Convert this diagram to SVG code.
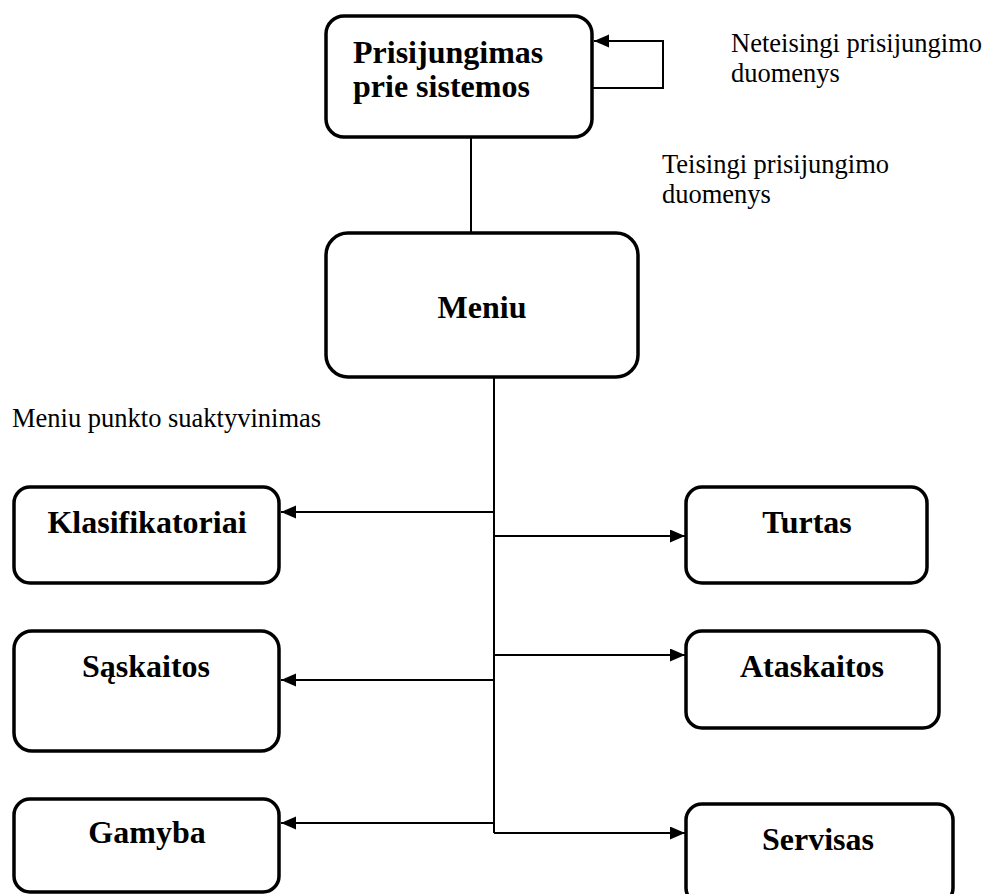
<svg xmlns="http://www.w3.org/2000/svg" width="984" height="894" viewBox="0 0 984 894">
  <style>
    .box { fill: #ffffff; stroke: #000000; stroke-width: 3.5; }
    .title { font-family: "Liberation Serif", "Times New Roman", serif; font-weight: bold; font-size: 32px; fill: #000000; }
    .note { font-family: "Liberation Serif", "Times New Roman", serif; font-size: 26.5px; fill: #000000; }
    .wire { fill: none; stroke: #000000; stroke-width: 2; }
    .arrow { fill: none; stroke: #000000; stroke-width: 2; marker-end: url(#head); }
  </style>
  <defs>
    <marker id="head" markerUnits="userSpaceOnUse" markerWidth="16" markerHeight="14" refX="15" refY="6.5" orient="auto">
      <path d="M0,0 L15,6.5 L0,13 z" fill="#000000"/>
    </marker>
  </defs>
  <rect width="984" height="894" fill="#ffffff"/>

  <!-- connectors -->
  <g id="connectors">
    <path class="arrow" d="M592,88 H663 V41 H594"/>
    <path class="wire" d="M471,137 V233"/>
    <path class="wire" d="M494,377 V833"/>
    <path class="arrow" d="M494,512 H281"/>
    <path class="arrow" d="M494,536 H685"/>
    <path class="arrow" d="M494,655 H685"/>
    <path class="arrow" d="M494,680 H281"/>
    <path class="arrow" d="M494,823 H281"/>
    <path class="arrow" d="M494,833 H685"/>
  </g>

  <!-- edge labels -->
  <g id="labels">
    <text class="note" x="731" y="52">Neteisingi prisijungimo</text>
    <text class="note" x="731" y="82">duomenys</text>
    <text class="note" x="662" y="173">Teisingi prisijungimo</text>
    <text class="note" x="662" y="203">duomenys</text>
    <text class="note" x="12" y="427">Meniu punkto suaktyvinimas</text>
  </g>

  <g id="login">
    <rect class="box" x="326" y="16" width="266" height="121" rx="18"/>
    <text class="title" x="353" y="63">Prisijungimas</text>
    <text class="title" x="353" y="97">prie sistemos</text>
  </g>

  <g id="menu">
    <rect class="box" x="326" y="233" width="312" height="144" rx="22"/>
    <text class="title" x="482" y="318" text-anchor="middle">Meniu</text>
  </g>

  <g id="klasifikatoriai">
    <rect class="box" x="14" y="487" width="265" height="96" rx="16"/>
    <text class="title" x="147" y="533" text-anchor="middle">Klasifikatoriai</text>
  </g>

  <g id="turtas">
    <rect class="box" x="686" y="487" width="241" height="96" rx="16"/>
    <text class="title" x="807" y="533" text-anchor="middle">Turtas</text>
  </g>

  <g id="saskaitos">
    <rect class="box" x="14" y="631" width="265" height="120" rx="18"/>
    <text class="title" x="146" y="677" text-anchor="middle">Sąskaitos</text>
  </g>

  <g id="ataskaitos">
    <rect class="box" x="686" y="631" width="253" height="97" rx="16"/>
    <text class="title" x="812" y="677" text-anchor="middle">Ataskaitos</text>
  </g>

  <g id="gamyba">
    <rect class="box" x="14" y="799" width="265" height="93" rx="16"/>
    <text class="title" x="147" y="843" text-anchor="middle">Gamyba</text>
  </g>

  <g id="servisas">
    <rect class="box" x="686" y="804" width="267" height="100" rx="16"/>
    <text class="title" x="818" y="850" text-anchor="middle">Servisas</text>
  </g>
</svg>
